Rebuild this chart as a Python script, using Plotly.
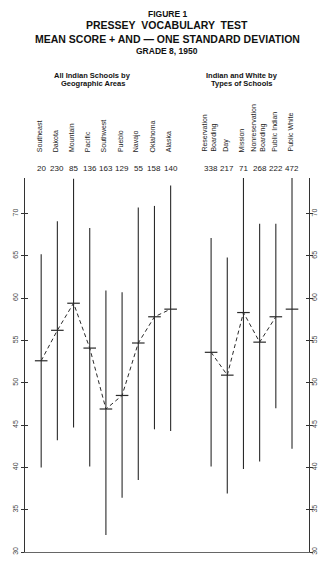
import plotly.graph_objects as go

# ---- data ----
geo_areas = ["Southeast", "Dakota", "Mountain", "Pacific", "Southwest",
             "Pueblo", "Navajo", "Oklahoma", "Alaska"]
geo_n = [20, 230, 85, 136, 163, 129, 55, 158, 140]
geo_low = [40.0, 43.2, 44.7, 40.1, 32.0, 36.4, 38.5, 44.5, 44.3]
geo_mean = [52.6, 56.2, 59.4, 54.1, 46.9, 48.5, 54.7, 57.8, 58.7]
geo_high = [65.2, 69.1, 74.1, 68.3, 60.9, 60.7, 70.7, 70.9, 73.3]

school_types = ["Reservation<br>Boarding", "Day", "Mission",
                "Nonreservation<br>Boarding", "Public Indian", "Public White"]
school_n = [338, 217, 71, 268, 222, 472]
school_low = [40.1, 36.9, 39.8, 40.7, 47.0, 42.2]
school_mean = [53.6, 50.9, 58.3, 54.8, 57.8, 58.7]
school_high = [67.1, 64.8, 76.8, 68.8, 68.8, 75.2]

y_ticks = [30, 35, 40, 45, 50, 55, 60, 65, 70]

# ---- layout positions ----
geo_x = [1 + i for i in range(len(geo_areas))]
school_x = [11.5 + i for i in range(len(school_types))]
X_MAX = 17.55
Y_RANGE = [30, 74.2]

LINE_COLOR = "#2a2a2a"
FONT = "Liberation Sans"

fig = go.Figure()


def add_group(xs, lows, means, highs, n_connected, yaxis):
    vx, vy = [], []
    for x, lo, hi in zip(xs, lows, highs):
        vx += [x, x, None]
        vy += [lo, hi, None]
    fig.add_trace(go.Scatter(x=vx, y=vy, mode="lines", yaxis=yaxis,
                             line=dict(color=LINE_COLOR, width=1.1),
                             hoverinfo="skip", showlegend=False))
    fig.add_trace(go.Scatter(x=xs[:n_connected], y=means[:n_connected],
                             mode="lines", yaxis=yaxis,
                             line=dict(color=LINE_COLOR, width=1, dash="4px,3px"),
                             hoverinfo="skip", showlegend=False))
    fig.add_trace(go.Scatter(x=xs, y=means, mode="markers", yaxis=yaxis,
                             marker=dict(symbol="line-ew", size=9,
                                         line=dict(color=LINE_COLOR, width=1.2)),
                             hoverinfo="skip", showlegend=False))


add_group(geo_x, geo_low, geo_mean, geo_high, len(geo_x), "y")
add_group(school_x, school_low, school_mean, school_high, 5, "y2")

# ---- annotations ----
ann = []
PLOT_H = 374.0
BOTTOM = 552.0


def py(px):
    return (BOTTOM - px) / PLOT_H


def pxx(px):
    return (px - 17.0) / 296.6


titles = [
    ("FIGURE 1", 14, 8.5),
    ("PRESSEY  VOCABULARY  TEST", 25, 10.5),
    ("MEAN SCORE + AND \u2014 ONE STANDARD DEVIATION", 39, 10.5),
    ("GRADE 8, 1950", 51, 8.5),
]
for txt, ypx, size in titles:
    ann.append(dict(text="<b>%s</b>" % txt, x=0.5, y=py(ypx), xref="paper", yref="paper",
                    showarrow=False, xanchor="center", yanchor="middle",
                    font=dict(family=FONT, size=size, color="#111")))

subs = [("All Indian Schools by", 87.5, 75), ("Geographic Areas", 87.5, 83.5),
        ("Indian and White by", 244, 75), ("Types of Schools", 244, 83.5)]
for txt, xpx, ypx in subs:
    ann.append(dict(text="<b>%s</b>" % txt, x=pxx(xpx), y=py(ypx), xref="paper", yref="paper",
                    showarrow=False, xanchor="center", yanchor="middle",
                    font=dict(family=FONT, size=7.5, color="#111")))

for names, ns, xs in [(geo_areas, geo_n, geo_x), (school_types, school_n, school_x)]:
    for name, n, x in zip(names, ns, xs):
        ann.append(dict(text=name, x=x, y=py(154), xref="x", yref="paper",
                        textangle=-90, showarrow=False, align="left",
                        xanchor="center", yanchor="bottom", xshift=-2,
                        font=dict(family=FONT, size=7, color="#222")))
        ann.append(dict(text=str(n), x=x, y=py(168.5), xref="x", yref="paper",
                        showarrow=False, xanchor="center", yanchor="middle",
                        font=dict(family=FONT, size=8, color="#222")))

fig.update_layout(
    width=330, height=567,
    margin=dict(l=17, r=17, t=178, b=15),
    paper_bgcolor="white", plot_bgcolor="white",
    showlegend=False,
    annotations=ann,
    xaxis=dict(range=[0, X_MAX], showgrid=False, zeroline=False,
               showticklabels=False, ticks="", showline=True,
               linecolor="#666", linewidth=1),
    yaxis=dict(range=Y_RANGE, tickvals=y_ticks, showgrid=False, zeroline=False,
               ticks="outside", ticklen=3, tickcolor="#333", tickwidth=1,
               showline=True, linecolor="#333", linewidth=1.2, mirror="ticks",
               tickangle=-90, tickfont=dict(family=FONT, size=7, color="#444")),
    yaxis2=dict(range=Y_RANGE, tickvals=y_ticks, overlaying="y", side="right",
                showgrid=False, zeroline=False, ticks="inside", ticklen=3,
                tickcolor="#333", tickwidth=1, mirror="ticks", showline=False,
                tickangle=-90, tickfont=dict(family=FONT, size=7, color="#444")),
)

fig.write_html("out.html")
